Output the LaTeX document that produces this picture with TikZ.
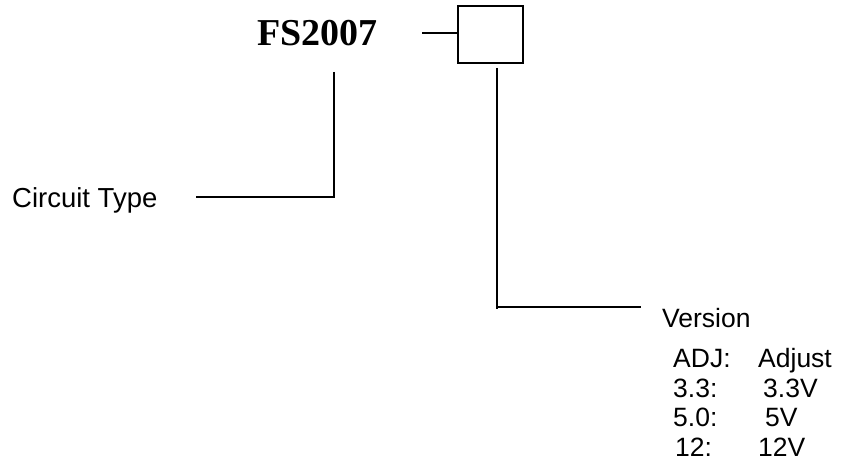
\documentclass[tikz,border=0pt]{standalone}
\usepackage{fontspec}
\setmainfont{Liberation Sans}
\newfontfamily\titleserif{Liberation Serif}
\begin{document}
\begin{tikzpicture}[x=1pt,y=-1pt,
  conn/.style={line width=1.7pt},
  lbl/.style={inner sep=0pt, anchor=base west, font=\fontsize{26.5}{26.5}\selectfont},
  titletxt/.style={inner sep=0pt, anchor=base west, font=\titleserif\bfseries\fontsize{38}{38}\selectfont},
  pbox/.style={draw, line width=1.7pt, minimum width=65pt, minimum height=57pt, inner sep=0pt, outer sep=0pt, anchor=north west}]
\useasboundingbox (0,0) rectangle (841,470);
% title and box
\node[titletxt] (fs) at (257,46) {FS2007};
\node[pbox] (box) at (458,6) {};
\coordinate (dashL) at (422,33);
\draw[conn] (dashL) -- (dashL -| box.west);
% circuit type branch
\coordinate (c1top) at (334,72);
\coordinate (c1corner) at (334,197);
\node[lbl, font=\fontsize{27.5}{27.5}\selectfont] (ct) at (12,208) {Circuit Type};
\coordinate (c1end) at (196,197);
\draw[conn] (c1top) -- (c1corner) -- (c1end);
% version branch
\coordinate (v1top) at (497,68);
\coordinate (v1bot) at (497,309);
\coordinate (v1start) at (497,307);
\coordinate (v1end) at (641,307);
\draw[conn] (v1top) -- (v1bot);
\draw[conn] (v1start) -- (v1end);
\node[lbl] (ver) at (662,328) {Version};
\node[lbl] (k1) at (673,368) {ADJ:};
\node[lbl] (v1) at (758,368) {Adjust};
\node[lbl] (k2) at (673,397) {3.3:};
\node[lbl] (v2) at (763,397) {3.3V};
\node[lbl] (k3) at (673,426) {5.0:};
\node[lbl] (v3) at (765,426) {5V};
\node[lbl] (k4) at (675,456) {12:};
\node[lbl] (v4) at (758,456) {12V};
\end{tikzpicture}
\end{document}
